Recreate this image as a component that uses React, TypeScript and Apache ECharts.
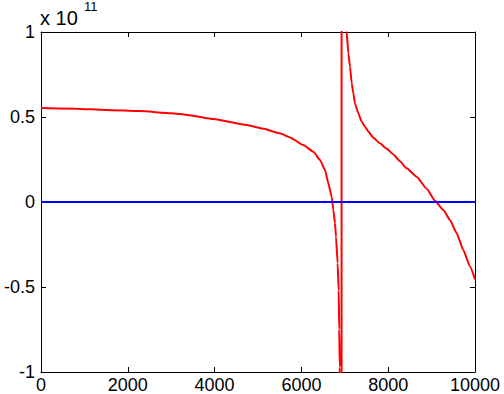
import React, { useEffect, useRef } from "react";
import * as echarts from "echarts";

// x in samples, y in units of 1e11
const redX = [0, 800, 1514, 2281, 3000, 3380, 3970, 4740, 5100, 5507, 5737, 6044, 6275, 6429, 6544, 6621, 6697, 6736, 6774, 6797, 6835, 6859, 6872, 6884, 6895, 6920, 6932, 7000, 7043, 7081, 7120, 7159, 7197, 7235, 7311, 7389, 7465, 7542, 7650, 7811, 7960, 8118, 8270, 8426, 8656, 8887, 9078, 9270, 9424, 9578, 9731, 9885, 10000];
const redY = [0.553, 0.549, 0.541, 0.535, 0.522, 0.512, 0.488, 0.453, 0.432, 0.404, 0.38, 0.335, 0.296, 0.247, 0.188, 0.11, 0.031, -0.047, -0.125, -0.204, -0.361, -0.52, -0.75, -0.97, -1.5, -20, 20, 3, 1.0, 0.875, 0.796, 0.698, 0.639, 0.58, 0.522, 0.472, 0.443, 0.415, 0.38, 0.345, 0.315, 0.28, 0.24, 0.198, 0.149, 0.078, 0.008, -0.047, -0.106, -0.184, -0.282, -0.38, -0.455];
const blueX = [0, 10000];
const blueY = [0, 0];
const xTicks = [0, 2000, 4000, 6000, 8000, 10000];
const yTicks = [-1, -0.5, 0, 0.5, 1];

const FONT = "'Liberation Sans', Arial, Helvetica, sans-serif";

export default function App() {
  const ref = useRef<HTMLDivElement>(null);
  useEffect(() => {
    if (!ref.current) return;
    const chart = echarts.init(ref.current, null, { renderer: "svg" });
    const axisCommon = {
      axisLine: { show: true, onZero: false, lineStyle: { color: "#000", width: 1 } },
      axisTick: { show: true, inside: true, length: 5, lineStyle: { color: "#000" } },
      splitLine: { show: false },
    };
    const xBase = {
      type: "value", min: xTicks[0], max: xTicks[xTicks.length - 1], interval: xTicks[1] - xTicks[0],
    };
    const yBase = {
      type: "value", min: yTicks[0], max: yTicks[yTicks.length - 1], interval: yTicks[1] - yTicks[0],
    };
    chart.setOption({
      animation: false,
      backgroundColor: "#fff",
      grid: { left: 41, top: 32, right: 29, bottom: 22, containLabel: false },
      xAxis: [
        {
          ...xBase, position: "bottom",
          ...axisCommon,
          axisLabel: { show: true, color: "#000", fontSize: 18, fontFamily: FONT, margin: 4, formatter: (v: number) => String(v) },
        },
        {
          ...xBase, position: "top",
          ...axisCommon,
          axisLabel: { show: false },
        },
      ],
      yAxis: [
        {
          ...yBase, position: "left",
          ...axisCommon,
          axisLabel: { show: true, color: "#000", fontSize: 18, fontFamily: FONT, margin: 6, formatter: (v: number) => String(v) },
        },
        {
          ...yBase, position: "right",
          ...axisCommon,
          axisLabel: { show: false },
        },
      ],
      graphic: [
        { type: "text", left: 40, top: 8, style: { text: "x 10", fontSize: 20, fontFamily: FONT, fill: "#000" } },
        { type: "text", left: 84, top: 0, style: { text: "11", fontSize: 13, fontFamily: FONT, fill: "#000" } },
      ],
      series: [
        {
          type: "line",
          xAxisIndex: 0,
          yAxisIndex: 0,
          data: redX.map((x, i) => [x, redY[i]]),
          showSymbol: false,
          clip: true,
          smooth: 0.15,
          smoothMonotone: "x",
          lineStyle: { color: "#ff0000", width: 2 },
          itemStyle: { color: "#ff0000" },
        },
        {
          type: "line",
          xAxisIndex: 0,
          yAxisIndex: 0,
          data: blueX.map((x, i) => [x, blueY[i]]),
          showSymbol: false,
          clip: true,
          lineStyle: { color: "#0000ff", width: 2 },
          itemStyle: { color: "#0000ff" },
        },
      ],
    });
    return () => chart.dispose();
  }, []);
  return <div ref={ref} style={{ width: 504, height: 394, position: "absolute", left: 0, top: 0 }} />;
}
